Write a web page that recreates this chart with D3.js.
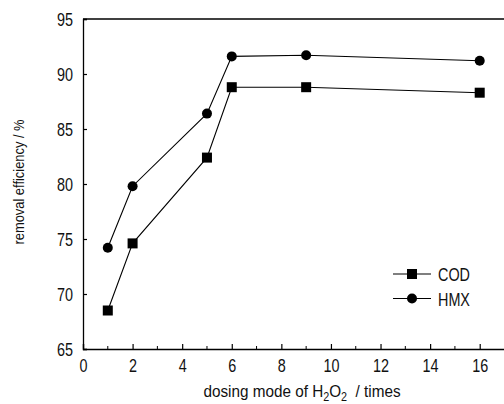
<!DOCTYPE html>
<html>
<head>
<meta charset="utf-8">
<script src="https://cdn.jsdelivr.net/npm/d3@7"></script>
<style>
body { margin: 0; background: #fff; }
text { font-family: "Liberation Sans", Arial, sans-serif; fill: #111; }
</style>
</head>
<body>
<div id="chart"></div>
<script>
var doses = [1, 2, 5, 6, 9, 16];
var cod = [68.5, 74.6, 82.4, 88.8, 88.8, 88.3];
var hmx = [74.2, 79.8, 86.4, 91.6, 91.7, 91.2];
var xTicks = [0, 2, 4, 6, 8, 10, 12, 14, 16];
var yTicks = [65, 70, 75, 80, 85, 90, 95];

var W = 504, H = 404;
var sx = 0.8; // narrow look for labels
var svg = d3.select("#chart").append("svg").attr("width", W).attr("height", H);

var x = d3.scaleLinear().domain([0, 17]).range([83, 504.5]);
var y = d3.scaleLinear().domain([65, 95]).range([349, 19]);

// top frame line
svg.append("line").attr("x1", 83).attr("x2", 504).attr("y1", 19).attr("y2", 19)
    .attr("stroke", "#000").attr("stroke-width", 1.3);

var xAxis = svg.append("g").attr("transform", "translate(0,349)")
    .call(d3.axisBottom(x).tickValues(xTicks).tickSize(-5).tickPadding(10));
xAxis.selectAll("text").attr("font-size", "18px").attr("dy", "0.71em")
    .attr("transform", "scale(" + sx + ",1)");
xAxis.selectAll("line.minor").data(d3.range(1, 17, 2)).enter().append("line")
    .attr("class", "minor")
    .attr("x1", function(d) { return x(d); }).attr("x2", function(d) { return x(d); })
    .attr("y1", 0).attr("y2", -3).attr("stroke", "#000");

var yAxis = svg.append("g").attr("transform", "translate(83,0)")
    .call(d3.axisLeft(y).tickValues(yTicks).tickSize(-4).tickPadding(10));
yAxis.selectAll("text").attr("font-size", "18px")
    .attr("x", -10 / sx).attr("dy", "0.38em")
    .attr("transform", "scale(" + sx + ",1)");

svg.selectAll(".domain").attr("stroke-width", 1.3);
svg.selectAll(".tick line").attr("stroke-width", 1.2);

var line = d3.line().x(function(d, i) { return x(doses[i]); }).y(function(d) { return y(d); });

svg.append("path").datum(cod).attr("d", line).attr("fill", "none").attr("stroke", "#000").attr("stroke-width", 1.1);
svg.append("path").datum(hmx).attr("d", line).attr("fill", "none").attr("stroke", "#000").attr("stroke-width", 1.1);

svg.selectAll("rect.cod").data(cod).enter().append("rect")
    .attr("x", function(d, i) { return x(doses[i]) - 5; })
    .attr("y", function(d) { return y(d) - 5; })
    .attr("width", 10).attr("height", 10).attr("fill", "#000");

svg.selectAll("circle.hmx").data(hmx).enter().append("circle")
    .attr("cx", function(d, i) { return x(doses[i]); })
    .attr("cy", function(d) { return y(d); })
    .attr("r", 5).attr("fill", "#000");

// legend
var leg = svg.append("g");
leg.append("line").attr("x1", 393).attr("x2", 431).attr("y1", 274).attr("y2", 274).attr("stroke", "#000").attr("stroke-width", 1.1);
leg.append("rect").attr("x", 407).attr("y", 269).attr("width", 10).attr("height", 10).attr("fill", "#000");
leg.append("text").attr("transform", "translate(438,281) scale(" + sx + ",1)").attr("font-size", "18px").text("COD");
leg.append("line").attr("x1", 393).attr("x2", 431).attr("y1", 298.5).attr("y2", 298.5).attr("stroke", "#000").attr("stroke-width", 1.1);
leg.append("circle").attr("cx", 412).attr("cy", 298.5).attr("r", 5).attr("fill", "#000");
leg.append("text").attr("transform", "translate(438,305.5) scale(" + sx + ",1)").attr("font-size", "18px").text("HMX");

// axis titles
svg.append("text").attr("transform", "translate(24,182) rotate(-90) scale(0.86,1)")
    .attr("text-anchor", "middle").attr("font-size", "15px").text("removal efficiency / %");

var xt = svg.append("text").attr("transform", "translate(302,397) scale(0.9,1)")
    .attr("text-anchor", "middle").attr("font-size", "17px");
xt.append("tspan").text("dosing mode of H");
xt.append("tspan").attr("font-size", "12px").attr("dy", 4).text("2");
xt.append("tspan").attr("dy", -4).text("O");
xt.append("tspan").attr("font-size", "12px").attr("dy", 4).text("2");
xt.append("tspan").attr("dy", -4).text("\u00a0\u00a0/ times");
</script>
</body>
</html>
